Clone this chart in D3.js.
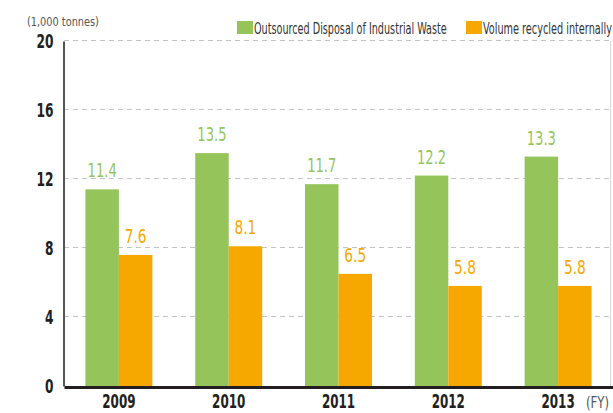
<!DOCTYPE html>
<html>
<head>
<meta charset="utf-8">
<script src="https://cdn.jsdelivr.net/npm/d3@7"></script>
<style>
  body { margin: 0; background: #fff; }
  svg text { font-family: "DejaVu Sans Condensed", "DejaVu Sans", sans-serif; }
</style>
</head>
<body>
<div id="chart"></div>
<script>
// chart data
var years = ["2009", "2010", "2011", "2012", "2013"];
var outsourced = [11.4, 13.5, 11.7, 12.2, 13.3];
var recycled = [7.6, 8.1, 6.5, 5.8, 5.8];
var yTicks = [0, 4, 8, 12, 16, 20];
var seriesNames = ["Outsourced Disposal of Industrial Waste", "Volume recycled internally"];

var width = 613, height = 413;
var green = "#95c55a", orange = "#f6a800";

var svg = d3.select("#chart").append("svg")
    .attr("width", width)
    .attr("height", height);

// squeeze text horizontally (around its anchor x) so it looks like the
// condensed face of the original; w(text) gives the wanted width
function squeeze(sel, w) {
    sel.each(function () {
        var natural = this.getComputedTextLength();
        var target = typeof w === "function" ? w(this.textContent) : w;
        var s = Math.min(1, target / natural);
        var ax = +this.getAttribute("x") || 0;
        d3.select(this).attr("transform", "translate(" + (ax * (1 - s)) + ",0) scale(" + s + ",1)");
    });
}

// scales
var x = d3.scaleBand()
    .domain(years)
    .range([64, 613])
    .paddingInner(0.39)
    .paddingOuter(0.195);

var xSub = d3.scaleBand()
    .domain([0, 1])
    .range([0, x.bandwidth()]);

var y = d3.scaleLinear()
    .domain([0, 20])
    .range([386, 41]);

// dashed gridlines
svg.append("g")
    .selectAll("line")
    .data(yTicks.filter(d => d > 0))
    .enter().append("line")
    .attr("x1", 64)
    .attr("x2", 611)
    .attr("y1", d => Math.round(y(d)) - 0.5)
    .attr("y2", d => Math.round(y(d)) - 0.5)
    .attr("stroke", "#c4c4c4")
    .attr("stroke-width", 1)
    .attr("stroke-dasharray", "5,4");

// right border
svg.append("line")
    .attr("x1", 610.5).attr("x2", 610.5)
    .attr("y1", y(20)).attr("y2", y(0))
    .attr("stroke", "#d8d8d8");

// bars
var groups = svg.selectAll(".year")
    .data(years)
    .enter().append("g")
    .attr("class", "year")
    .attr("transform", d => "translate(" + x(d) + ",0)");

var series = [
    { values: outsourced, color: green },
    { values: recycled, color: orange }
];

series.forEach((s, si) => {
    groups.append("rect")
        .attr("x", xSub(si))
        .attr("y", (d, i) => y(s.values[i]))
        .attr("width", xSub.bandwidth())
        .attr("height", (d, i) => y(0) - y(s.values[i]))
        .attr("fill", s.color);

    groups.append("text")
        .attr("x", xSub(si) + xSub.bandwidth() / 2)
        .attr("y", (d, i) => y(s.values[i]) - 12)
        .attr("text-anchor", "middle")
        .attr("fill", s.color)
        .style("font-size", "19px")
        .text((d, i) => s.values[i].toFixed(1))
        .call(squeeze, t => t.length * 7.3);
});

// y axis
var yAxis = d3.axisLeft(y)
    .tickValues(yTicks)
    .tickSize(0)
    .tickPadding(10);

var gy = svg.append("g")
    .attr("transform", "translate(63.5,0)")
    .call(yAxis);
gy.select(".domain").attr("stroke", "#555").attr("stroke-width", 2);
gy.selectAll("text")
    .style("font-size", "19px")
    .style("font-weight", "bold")
    .attr("fill", "#231f20")
    .call(squeeze, t => t.length * 8.5);

// x axis
var xAxis = d3.axisBottom(x)
    .tickSize(0)
    .tickPadding(8);

var gx = svg.append("g")
    .attr("transform", "translate(0," + (y(0) + 1) + ")")
    .call(xAxis);
gx.select(".domain").attr("stroke", "#231f20").attr("stroke-width", 3);
gx.selectAll("text")
    .style("font-size", "19px")
    .style("font-weight", "bold")
    .attr("fill", "#231f20")
    .call(squeeze, t => t.length * 8.3);

// unit labels
svg.append("text")
    .attr("x", 27).attr("y", 26)
    .attr("fill", "#555")
    .style("font-size", "13px")
    .text("(1,000 tonnes)")
    .call(squeeze, 72);

svg.append("text")
    .attr("x", 586).attr("y", 408)
    .attr("fill", "#555")
    .style("font-size", "15px")
    .text("(FY)")
    .call(squeeze, 23);

// legend
var legend = svg.append("g");
var legendX = [237, 466];
var legendTextW = [193, 129];
seriesNames.forEach((name, i) => {
    legend.append("rect")
        .attr("x", legendX[i]).attr("y", 21)
        .attr("width", 16).attr("height", 13)
        .attr("fill", series[i].color);
    legend.append("text")
        .attr("x", legendX[i] + 17).attr("y", 34)
        .attr("fill", "#333")
        .style("font-size", "16px")
        .text(name)
        .call(squeeze, legendTextW[i]);
});
</script>
</body>
</html>
